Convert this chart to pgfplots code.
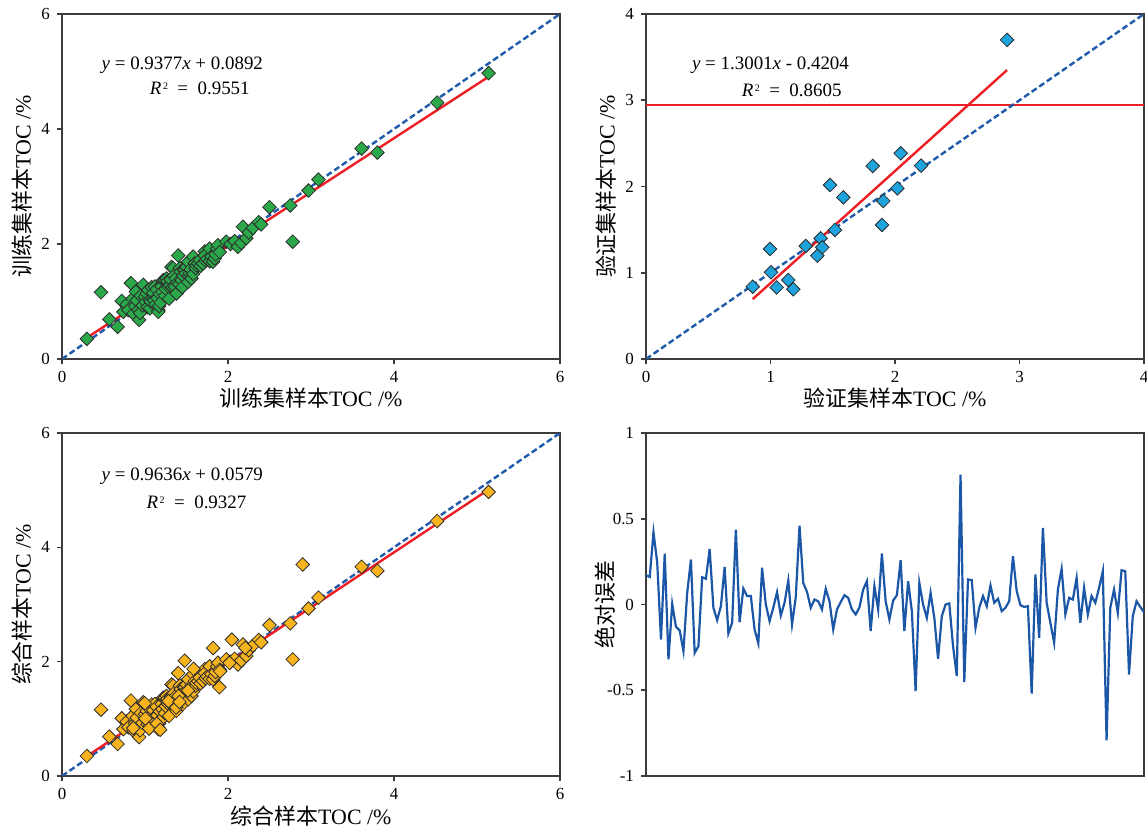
\documentclass[border=0pt]{standalone}
\usepackage{fontspec}
\setmainfont{Liberation Serif}
\newfontfamily\cjk{Noto Sans CJK SC}
\usepackage{pgfplots}
\pgfplotsset{compat=1.18}
\usepackage{pgfplotstable}

\definecolor{axisgray}{RGB}{60,60,60}
\definecolor{markgray}{RGB}{45,45,45}
\definecolor{gfill}{RGB}{43,168,74}
\definecolor{ofill}{RGB}{247,180,30}
\definecolor{bfill}{RGB}{30,163,220}
\definecolor{fitred}{RGB}{237,30,36}
\definecolor{oneblue}{RGB}{30,90,170}
\definecolor{errblue}{RGB}{28,87,167}

\pgfplotstableread{
x y
0.30 0.35
0.47 1.16
0.57 0.69
0.67 0.56
0.72 1.01
0.74 0.82
0.78 0.95
0.80 0.85
0.83 1.32
0.85 1.05
0.86 0.79
0.88 0.92
0.89 1.17
0.90 1.02
0.92 0.85
0.93 0.68
0.94 0.80
0.95 1.10
0.97 0.93
0.98 1.29
1.00 1.08
1.01 0.99
1.02 1.14
1.03 0.90
1.04 1.20
1.06 1.03
1.06 0.88
1.07 1.00
1.08 1.25
1.10 1.15
1.11 1.02
1.12 1.26
1.13 0.95
1.14 1.21
1.15 1.06
1.16 0.85
1.16 0.82
1.17 0.92
1.18 1.13
1.19 0.98
1.20 1.26
1.21 1.17
1.22 1.37
1.24 1.37
1.24 1.10
1.25 1.22
1.26 1.40
1.27 1.35
1.28 1.26
1.29 1.05
1.30 1.28
1.31 1.38
1.32 1.60
1.33 1.25
1.34 1.58
1.35 1.45
1.36 1.26
1.37 1.40
1.38 1.14
1.39 1.33
1.40 1.80
1.41 1.30
1.42 1.58
1.43 1.52
1.44 1.37
1.45 1.25
1.46 1.45
1.47 1.55
1.48 1.55
1.49 1.49
1.50 1.60
1.52 1.34
1.52 1.69
1.53 1.45
1.54 1.49
1.55 1.56
1.56 1.40
1.58 1.78
1.58 1.48
1.60 1.66
1.61 1.58
1.62 1.63
1.64 1.66
1.66 1.72
1.67 1.62
1.72 1.87
1.70 1.66
1.72 1.80
1.73 1.71
1.75 1.74
1.78 1.92
1.78 1.70
1.80 1.78
1.82 1.69
1.84 1.75
1.85 1.82
1.87 1.92
1.88 1.98
1.90 1.86
1.98 2.04
2.03 2.00
2.08 2.05
2.12 1.95
2.16 2.02
2.18 2.30
2.22 2.10
2.25 2.20
2.30 2.28
2.37 2.38
2.40 2.34
2.50 2.64
2.75 2.67
2.78 2.04
2.97 2.93
3.09 3.12
3.61 3.66
3.80 3.59
4.52 4.46
5.14 4.97
}\traintab

\pgfplotstableread{
x y
0.857 0.838
0.996 1.275
1.004 1.005
1.050 0.830
1.143 0.916
1.183 0.808
1.283 1.310
1.376 1.198
1.403 1.399
1.416 1.295
1.478 2.017
1.518 1.496
1.585 1.874
1.821 2.238
1.896 1.554
1.906 1.832
2.019 1.979
2.046 2.385
2.209 2.242
2.900 3.700
}\validtab

\pgfplotstableread{
idx err
0 0.171
1 0.161
2 0.421
3 0.243
4 -0.204
5 0.297
6 -0.320
7 0.004
8 -0.130
9 -0.151
10 -0.272
11 0.068
12 0.262
13 -0.282
14 -0.243
15 0.159
16 0.150
17 0.324
18 -0.019
19 -0.091
20 -0.010
21 0.219
22 -0.169
23 -0.107
24 0.437
25 -0.103
26 0.093
27 0.049
28 0.049
29 -0.146
30 -0.227
31 0.214
32 0.000
33 -0.097
34 -0.019
35 0.072
36 -0.064
37 0.010
38 0.140
39 -0.117
40 0.043
41 0.460
42 0.126
43 0.074
44 -0.019
45 0.029
46 0.019
47 -0.029
48 0.091
49 0.019
50 -0.146
51 -0.029
52 0.014
53 0.054
54 0.039
55 -0.029
56 -0.058
57 -0.017
58 0.087
59 0.136
60 -0.155
61 0.107
62 -0.029
63 0.297
64 0.019
65 -0.087
66 0.023
67 0.054
68 0.258
69 -0.155
70 0.136
71 -0.039
72 -0.505
73 0.126
74 0.000
75 -0.078
76 0.068
77 -0.078
78 -0.317
79 -0.068
80 0.000
81 0.006
82 -0.243
83 -0.417
84 0.757
85 -0.452
86 0.146
87 0.142
88 -0.136
89 -0.019
90 0.049
91 -0.010
92 0.111
93 0.010
94 0.033
95 -0.039
96 -0.019
97 0.019
98 0.282
99 0.078
100 -0.004
101 -0.014
102 -0.010
103 -0.520
104 0.175
105 -0.194
106 0.447
107 0.010
108 -0.107
109 -0.223
110 0.087
111 0.208
112 -0.058
113 0.039
114 0.029
115 0.155
116 -0.107
117 0.097
118 -0.058
119 0.049
120 0.010
121 0.097
122 0.194
123 -0.792
124 -0.019
125 0.087
126 -0.049
127 0.200
128 0.194
129 -0.408
130 -0.068
131 0.019
132 -0.014
133 -0.045
}\errtab

\tikzset{eq/.style={font=\fontsize{9.5}{11}\selectfont}}
\newcommand{\Rsq}{\textit{R}\kern0.8pt\raisebox{0.55ex}{\fontsize{5}{5}\selectfont 2}}
\pgfplotsset{
  panel/.style={
    scale only axis, width=249bp, height=172.5bp, anchor=south west,
    axis line style={draw=axisgray, line width=0.8bp},
    tick style={draw=axisgray, line width=0.8bp},
    tick align=outside, major tick length=2.5bp,
    xtick pos=bottom, ytick pos=left,
    tick label style={font=\fontsize{8.5}{10}\selectfont},
    label style={font=\fontsize{11}{13}\selectfont},
    /pgf/number format/assume math mode=true,
    ylabel style={at={(axis description cs:-0.08,0.5)}, anchor=center},
    xlabel style={at={(axis description cs:0.5,-0.113)}, anchor=center},
  },
  dia/.style={only marks, mark=square*, mark size=2.4bp,
    mark options={rotate=45, draw=markgray, line width=0.4bp, fill=#1}},
  oneone/.style={oneblue, line width=1.2bp, dash pattern=on 3bp off 1.6bp},
  fit/.style={fitred, line width=1.2bp},
}

\begin{document}
\begin{tikzpicture}
\path[use as bounding box] (0,0) rectangle (573.5bp,414bp);

% top left: training
\begin{axis}[panel, at={(31bp,234.5bp)},
  xmin=0, xmax=6, ymin=0, ymax=6, xtick={0,2,4,6}, ytick={0,2,4,6},
  xlabel={{\cjk 训练集样本}TOC /\%}, ylabel={{\cjk 训练集样本}TOC /\%}]
\addplot[oneone] coordinates {(0,0) (6,6)};
\addplot[dia=gfill] table[x=x,y=y] {\traintab};
\addplot[fit] coordinates {(0.30,0.3705) (5.14,4.9089)};
\node[eq] at (axis cs:1.45,5.1) {\textit{y} = 0.9377\textit{x} + 0.0892};
\node[eq] at (axis cs:1.66,4.71) {\Rsq\enspace=\enspace0.9551};
\end{axis}

% top right: validation
\begin{axis}[panel, at={(323bp,234.5bp)},
  xmin=0, xmax=4, ymin=0, ymax=4, xtick={0,1,2,3,4}, ytick={0,1,2,3,4},
  xlabel={{\cjk 验证集样本}TOC /\%}, ylabel={{\cjk 验证集样本}TOC /\%}]
\addplot[fitred, line width=1bp] coordinates {(0,2.94) (4,2.94)};
\addplot[oneone] coordinates {(0,0) (4,4)};
\addplot[dia=bfill] table[x=x,y=y] {\validtab};
\addplot[fit] coordinates {(0.857,0.6938) (2.90,3.3499)};
\node[eq] at (axis cs:1.0,3.40) {\textit{y} = 1.3001\textit{x} - 0.4204};
\node[eq] at (axis cs:1.17,3.12) {\Rsq\enspace=\enspace0.8605};
\end{axis}

% bottom left: combined
\begin{axis}[panel, at={(31bp,26bp)}, height=171.5bp,
  xmin=0, xmax=6, ymin=0, ymax=6, xtick={0,2,4,6}, ytick={0,2,4,6},
  xlabel style={at={(axis description cs:0.5,-0.117)}},
  xlabel={{\cjk 综合样本}TOC /\%}, ylabel={{\cjk 综合样本}TOC /\%}]
\addplot[oneone] coordinates {(0,0) (6,6)};
\addplot[dia=ofill] table[x=x,y=y] {\traintab};
\addplot[dia=ofill] table[x=x,y=y] {\validtab};
\addplot[fit] coordinates {(0.30,0.3470) (5.14,5.0108)};
\node[eq] at (axis cs:1.45,5.24) {\textit{y} = 0.9636\textit{x} + 0.0579};
\node[eq] at (axis cs:1.62,4.79) {\Rsq\enspace=\enspace0.9327};
\end{axis}

% bottom right: absolute error
\begin{axis}[panel, at={(323bp,26bp)}, height=171.5bp,
  xmin=0, xmax=133, ymin=-1, ymax=1, xtick=\empty,
  ytick={-1,-0.5,0,0.5,1},
  ylabel style={at={(axis description cs:-0.082,0.5)}},
  ylabel={\cjk 绝对误差}]
\addplot[errblue, line width=1.1bp] table[x=idx, y=err] {\errtab};
\end{axis}
\end{tikzpicture}
\end{document}
